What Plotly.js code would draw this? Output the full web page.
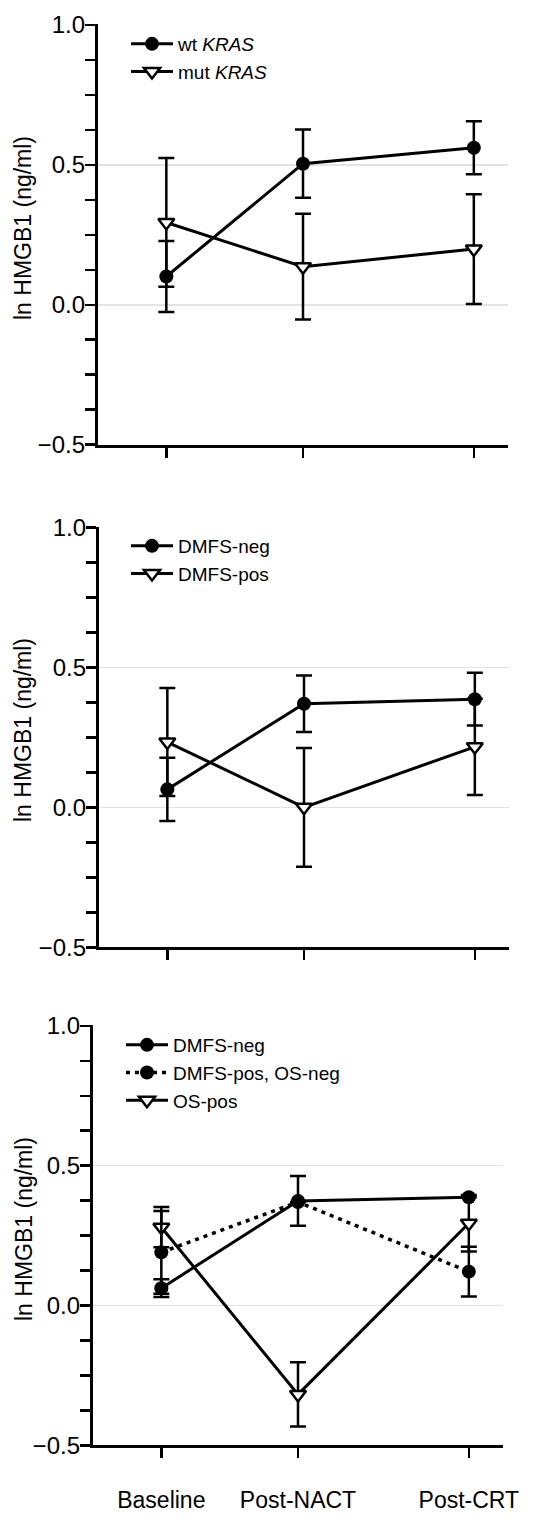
<!DOCTYPE html>
<html>
<head>
<meta charset="utf-8">
<script src="https://cdn.plot.ly/plotly-3.0.1.min.js"></script>
<style>html,body{margin:0;padding:0;background:#fff;}#chart{width:538px;height:1531px;}</style>
</head>
<body>
<div id="chart"></div>
<script>
// ---- data ----
const timepoints = [0, 1, 2.25];           // relative sampling times
const tickLabels = ['Baseline', 'Post-NACT', 'Post-CRT'];
const yTitle = 'ln HMGB1 (ng/ml)';

// Panel A: KRAS status
const wtKRAS      = [0.101, 0.504, 0.561];
const wtKRASerr   = [0.127, 0.122, 0.095];
const mutKRAS     = [0.294, 0.136, 0.199];
const mutKRASerr  = [0.230, 0.189, 0.196];

// Panel B: DMFS
const dmfsNeg     = [0.064, 0.370, 0.386];
const dmfsNegErr  = [0.113, 0.101, 0.094];
const dmfsPos     = [0.233, 0.000, 0.216];
const dmfsPosErr  = [0.193, 0.212, 0.172];

// Panel C: DMFS / OS
const cDmfsNeg         = [0.062, 0.374, 0.387];
const cDmfsNegErr      = [0.032, 0.089, 0.000];
const cDmfsPosOsNeg    = [0.190, 0.370, 0.121];
const cDmfsPosOsNegErr = [0.148, 0.000, 0.089];
const cOsPos           = [0.280, -0.318, 0.294];
const cOsPosErr        = [0.072, 0.115, 0.101];

// ---- styling helpers ----
const FONT = 'Liberation Sans, Arial, Helvetica, sans-serif';
const BLACK = '#000';
function err(arr){ return {type:'data', array:arr, visible:true, color:BLACK, thickness:2.5, width:8}; }
function circleTrace(name, y, e, xa, ya, leg, rank, dash){
  return {x:timepoints, y:y, error_y:err(e), name:name, xaxis:xa, yaxis:ya, legend:leg, legendrank:rank,
    mode:'lines+markers', type:'scatter',
    line:{color:BLACK, width: dash ? 3.5 : 3, dash: dash || 'solid'},
    marker:{symbol:'circle', size:14, color:BLACK, line:{width:0}}};
}
function triTrace(name, y, e, xa, ya, leg, rank){
  return {x:timepoints, y:y, error_y:err(e), name:name, xaxis:xa, yaxis:ya, legend:leg, legendrank:rank,
    mode:'lines+markers', type:'scatter',
    line:{color:BLACK, width:3},
    marker:{symbol:'triangle-down', size:14, color:'#fff', line:{width:2.5, color:BLACK}}};
}
// empty carrier so that the label-only overlay axis gets drawn
function carrier(xa, ya){
  return {x:[], y:[], xaxis:xa, yaxis:ya, type:'scatter', mode:'markers', showlegend:false, hoverinfo:'skip'};
}

const traces = [
  triTrace('mut <i>KRAS</i>', mutKRAS, mutKRASerr, 'x', 'y', 'legend', 2),
  circleTrace('wt <i>KRAS</i>', wtKRAS, wtKRASerr, 'x', 'y', 'legend', 1),
  triTrace('DMFS-pos', dmfsPos, dmfsPosErr, 'x2', 'y2', 'legend2', 2),
  circleTrace('DMFS-neg', dmfsNeg, dmfsNegErr, 'x2', 'y2', 'legend2', 1),
  triTrace('OS-pos', cOsPos, cOsPosErr, 'x3', 'y3', 'legend3', 3),
  circleTrace('DMFS-pos, OS-neg', cDmfsPosOsNeg, cDmfsPosOsNegErr, 'x3', 'y3', 'legend3', 2, '4px,5px'),
  circleTrace('DMFS-neg', cDmfsNeg, cDmfsNegErr, 'x3', 'y3', 'legend3', 1),
  carrier('x', 'y4'), carrier('x2', 'y5'), carrier('x3', 'y6')
];

const W = 538, H = 1531;
const YRANGE = [-0.5, 1.002];
function xdom(l, r){ return [l / W, r / W]; }
function ydom(top, bottom){ return [1 - bottom / H, 1 - top / H]; }

function xaxis(dom, anchor, showLabels){
  return {domain:dom, anchor:anchor, range:[-0.5, 2.5], tickmode:'array', tickvals:timepoints, ticktext:tickLabels,
    showticklabels:showLabels, ticks:'outside', ticklen:10, tickwidth:2.5, tickcolor:BLACK,
    showline:true, linewidth:3, linecolor:BLACK, showgrid:false, zeroline:false,
    ticklabelstandoff:22,
    tickfont:{family:FONT, size:23, color:BLACK}};
}
// main y axis: line, ticks, grid (no labels)
function yaxis(dom, anchor){
  return {domain:dom, anchor:anchor, range:YRANGE, tickmode:'linear', tick0:-0.5, dtick:0.5,
    showticklabels:false, ticks:'outside', ticklen:10, tickwidth:2.5, tickcolor:BLACK,
    minor:{dtick:0.125, tick0:-0.5, ticks:'outside', ticklen:10, tickwidth:2.5, tickcolor:BLACK, showgrid:false},
    showline:true, linewidth:3, linecolor:BLACK, showgrid:true, gridcolor:'#e3e3e3', gridwidth:1.5,
    zeroline:false};
}
// overlay y axis: tick labels
function ylabels(over, anchor){
  return {overlaying:over, anchor:anchor, side:'left', range:YRANGE, tickmode:'linear', tick0:-0.5, dtick:0.5,
    tickformat:'.1f', ticks:'', showline:false, showgrid:false, zeroline:false, ticklabelstandoff:12,
    tickfont:{family:FONT, size:24, color:BLACK}};
}
function legend(xpx, ypx){
  return {x:xpx / W, y:1 - ypx / H, xanchor:'left', yanchor:'top', bgcolor:'rgba(0,0,0,0)', borderwidth:0,
    itemwidth:42, font:{family:FONT, size:19, color:BLACK}, tracegroupgap:0};
}
function ytitle(xpx, ypx){
  return {text:yTitle, textangle:-90, xref:'paper', yref:'paper', x:xpx / W, y:1 - ypx / H,
    xanchor:'center', yanchor:'middle', showarrow:false, font:{family:FONT, size:23, color:BLACK}};
}

const layout = {
  width:W, height:H, margin:{l:0, r:0, t:0, b:0}, paper_bgcolor:'#fff', plot_bgcolor:'#fff',
  showlegend:true,
  xaxis: xaxis(xdom(98, 508), 'y', false),
  yaxis: yaxis(ydom(24.3, 444.7), 'x'),
  xaxis2: xaxis(xdom(99, 509), 'y2', false),
  yaxis2: yaxis(ydom(526.7, 947.3), 'x2'),
  xaxis3: xaxis(xdom(93, 503), 'y3', true),
  yaxis3: yaxis(ydom(1025.3, 1445.3), 'x3'),
  yaxis4: ylabels('y', 'x'),
  yaxis5: ylabels('y2', 'x2'),
  yaxis6: ylabels('y3', 'x3'),
  legend: legend(126, 25),
  legend2: legend(126, 527),
  legend3: legend(121, 1026),
  annotations: [ytitle(23, 228), ytitle(23, 730), ytitle(24, 1229)]
};

Plotly.newPlot('chart', traces, layout, {staticPlot:true, displayModeBar:false});
</script>
</body>
</html>
